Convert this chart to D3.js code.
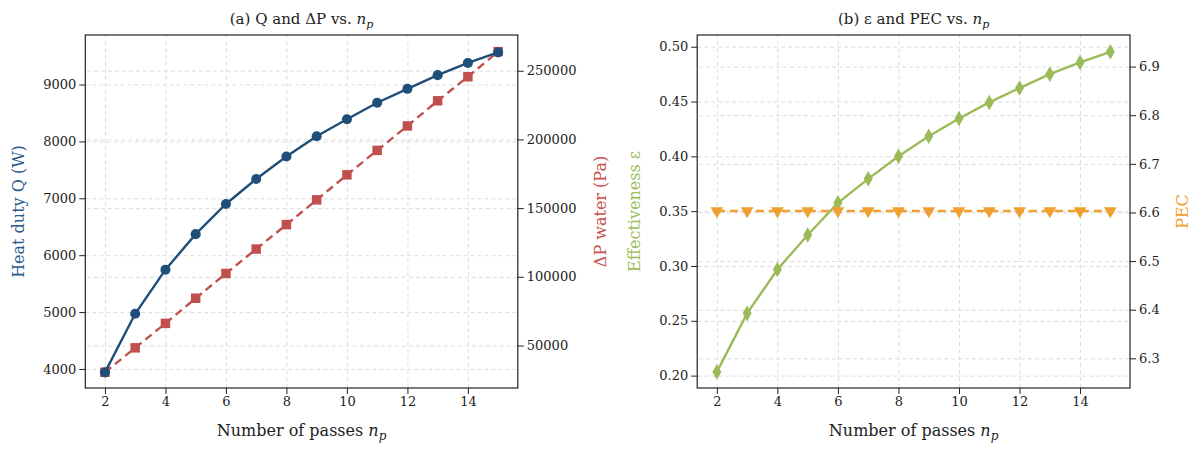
<!DOCTYPE html>
<html><head><meta charset="utf-8">
<script src="https://cdn.jsdelivr.net/npm/d3@7"></script>
<style>
body{margin:0;background:#fff}
svg{font-family:"DejaVu Serif",serif}
.tick text{font-family:"DejaVu Serif",serif;font-size:13px;fill:#222}
.tick line{stroke:#222}
.grid .tick line{stroke:#ddd;stroke-dasharray:4,3}
.grid path{display:none}
</style></head>
<body><svg id="svg" width="1200" height="452"></svg>
<script>
var passes = [2,3,4,5,6,7,8,9,10,11,12,13,14,15]
var heatQ = [3940,4970,5745,6370,6900,7340,7735,8090,8390,8680,8925,9165,9380,9565]
var dPwater = [30500,48300,66100,84400,102400,120200,138000,156000,174200,192000,209800,228100,245600,263900]
var effect = [0.2034,0.2568,0.2968,0.3283,0.3576,0.3795,0.400,0.4183,0.4345,0.4492,0.4623,0.4750,0.4857,0.4954]
var pec = [6.603,6.603,6.603,6.603,6.603,6.603,6.603,6.603,6.603,6.603,6.603,6.603,6.603,6.603]
var xTicks = [2,4,6,8,10,12,14]

var svg = d3.select("svg")
var yTop = 35, yBot = 388

// disegna un pannello con due assi y
function panel(o){
    var x = d3.scaleLinear().domain([1.35,15.65]).range([o.left,o.right])
    var yL = d3.scaleLinear().domain(o.dL).range([yBot,yTop])
    var yR = d3.scaleLinear().domain(o.dR).range([yBot,yTop])
    var g = svg.append("g")

    g.append("g").attr("class","grid").attr("transform","translate(0,"+yBot+")")
        .call(d3.axisBottom(x).tickValues(xTicks).tickSize(-(yBot-yTop)).tickFormat(""))
    g.append("g").attr("class","grid").attr("transform","translate("+o.left+",0)")
        .call(d3.axisLeft(yL).tickValues(o.tL).tickSize(-(o.right-o.left)).tickFormat(""))
    g.append("g").attr("class","grid").attr("transform","translate("+o.right+",0)")
        .call(d3.axisRight(yR).tickValues(o.tR).tickSize(-(o.right-o.left)).tickFormat(""))

    function series(vals, y, col, dash, sym, size){
        var line = d3.line().x((d,i)=>x(passes[i])).y(d=>y(d))
        g.append("path").datum(vals).attr("d",line).attr("fill","none")
            .attr("stroke",col).attr("stroke-width",2.4).attr("stroke-dasharray",dash)
        g.selectAll(null).data(vals).enter().append("path")
            .attr("d",d3.symbol().type(sym).size(size))
            .attr("transform",(d,i)=>"translate("+x(passes[i])+","+y(d)+")"+(sym===d3.symbolTriangle?" rotate(180)":""))
            .attr("fill",col)
    }
    o.draw(series,yL,yR)

    g.append("rect").attr("x",o.left).attr("y",yTop).attr("width",o.right-o.left).attr("height",yBot-yTop)
        .attr("fill","none").attr("stroke","#222").attr("stroke-width",1.2)
    g.append("g").attr("transform","translate(0,"+yBot+")")
        .call(d3.axisBottom(x).tickValues(xTicks).tickSizeOuter(0)).call(a=>a.select(".domain").remove())
    g.append("g").attr("transform","translate("+o.left+",0)")
        .call(d3.axisLeft(yL).tickValues(o.tL).tickFormat(o.fL).tickSizeOuter(0)).call(a=>a.select(".domain").remove())
    g.append("g").attr("transform","translate("+o.right+",0)")
        .call(d3.axisRight(yR).tickValues(o.tR).tickFormat(o.fR).tickSizeOuter(0)).call(a=>a.select(".domain").remove())

    var cx = (o.left+o.right)/2
    var t = g.append("text").attr("x",cx).attr("y",24).attr("text-anchor","middle").attr("font-size",15).attr("fill","#222")
    t.append("tspan").text(o.title)
    t.append("tspan").attr("font-style","italic").text("n")
    t.append("tspan").attr("font-style","italic").attr("font-size",11).attr("dy",4).text("p")
    var xl = g.append("text").attr("x",cx).attr("y",436).attr("text-anchor","middle").attr("font-size",16).attr("fill","#222")
    xl.append("tspan").text("Number of passes ")
    xl.append("tspan").attr("font-style","italic").text("n")
    xl.append("tspan").attr("font-style","italic").attr("font-size",12).attr("dy",4).text("p")

    g.append("text").attr("transform","translate("+o.labL+","+(yTop+yBot)/2+") rotate(-90)")
        .attr("text-anchor","middle").attr("font-size",16).attr("fill",o.cL).text(o.nameL)
    g.append("text").attr("transform","translate("+o.labR+","+(yTop+yBot)/2+") rotate(-90)")
        .attr("text-anchor","middle").attr("font-size",16).attr("fill",o.cR).text(o.nameR)
}

panel({left:85.3,right:517.8,dL:[3665,9871],dR:[19060,276000],
    tL:[4000,5000,6000,7000,8000,9000],tR:[50000,100000,150000,200000,250000],
    fL:d3.format("d"),fR:d3.format("d"),
    title:"(a) Q and \u0394P vs. ",labL:24,labR:606,cL:"#2a5a8a",cR:"#c9504d",
    nameL:"Heat duty Q (W)",nameR:"\u0394P water (Pa)",
    draw:function(series,yL,yR){
        series(dPwater,yR,"#c0504d","8,5",d3.symbolSquare,90)
        series(heatQ,yL,"#1f4e79",null,d3.symbolCircle,80)
    }})

panel({left:697.2,right:1130,dL:[0.1887,0.5107],dR:[6.239,6.965],
    tL:[0.20,0.25,0.30,0.35,0.40,0.45,0.50],tR:[6.3,6.4,6.5,6.6,6.7,6.8,6.9],
    fL:d3.format(".2f"),fR:d3.format(".1f"),
    title:"(b) \u03b5 and PEC vs. ",labL:640,labR:1188,cL:"#9bbb59",cR:"#f0a030",
    nameL:"Effectiveness \u03b5",nameR:"PEC",
    draw:function(series,yL,yR){
        series(effect,yL,"#9bbb59",null,d3.symbolDiamond,70)
        series(pec,yR,"#f0a030","8,5",d3.symbolTriangle,70)
    }})
</script></body></html>
